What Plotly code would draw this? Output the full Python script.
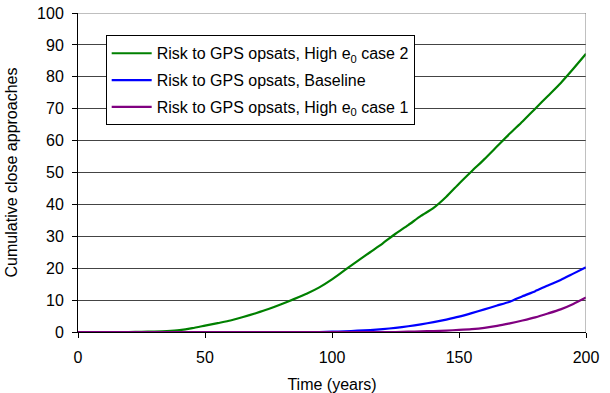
import plotly.graph_objects as go

years = list(range(0, 205, 5))
high_e0_case2 = [0, 0, 0, 0, 0, 0.05, 0.15, 0.3, 0.6, 1.2, 2.0, 2.8, 3.6, 4.7, 5.9, 7.2, 8.7, 10.3,
                 12.0, 14.0, 16.5, 19.4, 22.2, 25.0, 27.8, 30.8, 33.5, 36.4, 38.9, 42.4, 46.5, 50.4,
                 54.2, 58.2, 62.2, 66.0, 70.0, 74.0, 78.0, 82.5, 87.2]
baseline = [0] * 20 + [0.1, 0.2, 0.4, 0.6, 0.9, 1.3, 1.8, 2.4, 3.1, 3.9, 4.8, 5.9, 7.1, 8.3, 9.5,
                       11.2, 12.8, 14.6, 16.3, 18.3, 20.3]
high_e0_case1 = [0] * 26 + [0.1, 0.2, 0.3, 0.45, 0.65, 0.9, 1.3, 1.9, 2.7, 3.6, 4.6, 5.8, 7.1, 8.8, 10.8]

series = [
    ("Risk to GPS opsats, High e<sub>0</sub> case 2", high_e0_case2, "#008000"),
    ("Risk to GPS opsats, Baseline", baseline, "#0000FF"),
    ("Risk to GPS opsats, High e<sub>0</sub> case 1", high_e0_case1, "#800080"),
]

fig = go.Figure()
for i, (name, vals, color) in enumerate(series):
    fig.add_trace(go.Scatter(x=years, y=vals, mode="lines", name=name,
                             line=dict(color=color, width=2.2, shape="spline", smoothing=0.6),
                             legendgroup=str(i), hoverinfo="skip"))

fam = "Liberation Sans, Arial, sans-serif"
font = dict(family=fam, size=16, color="black")
fig.update_layout(
    width=610, height=393,
    margin=dict(l=78, r=24, t=13, b=61),
    paper_bgcolor="white", plot_bgcolor="white",
    font=font,
    showlegend=True,
    legend=dict(x=0.0545, y=0.93, xanchor="left", yanchor="top",
                bgcolor="white", bordercolor="black", borderwidth=1,
                font=dict(family=fam, size=16, color="black"),
                tracegroupgap=3, traceorder="grouped", itemwidth=40),
    xaxis=dict(range=[0, 200], tickvals=[0, 50, 100, 150, 200], showgrid=False,
               showline=True, linecolor="black", linewidth=1, mirror=False,
               ticks="outside", ticklen=5, tickcolor="black", zeroline=False,
               tickfont=dict(family=fam, size=16), ticklabelstandoff=6, automargin=False,
               title=dict(text="Time (years)", font=dict(family=fam, size=16))),
    yaxis=dict(range=[0, 100], tickvals=list(range(0, 101, 10)), showgrid=True,
               gridcolor="#444444", gridwidth=1,
               showline=True, linecolor="black", linewidth=1,
               ticks="outside", ticklen=5, tickcolor="black", zeroline=False,
               tickfont=dict(family=fam, size=16), ticklabelstandoff=5, automargin=False,
               title=dict(text="Cumulative close approaches", font=dict(family=fam, size=16))),
)
fig.add_shape(type="line", xref="x", yref="y", x0=200, x1=200, y0=0, y1=100,
              line=dict(color="#808080", width=1))
fig.add_shape(type="line", xref="x", yref="y", x0=0, x1=200, y0=100, y1=100,
              line=dict(color="#808080", width=1))
fig.write_html("out.html")
